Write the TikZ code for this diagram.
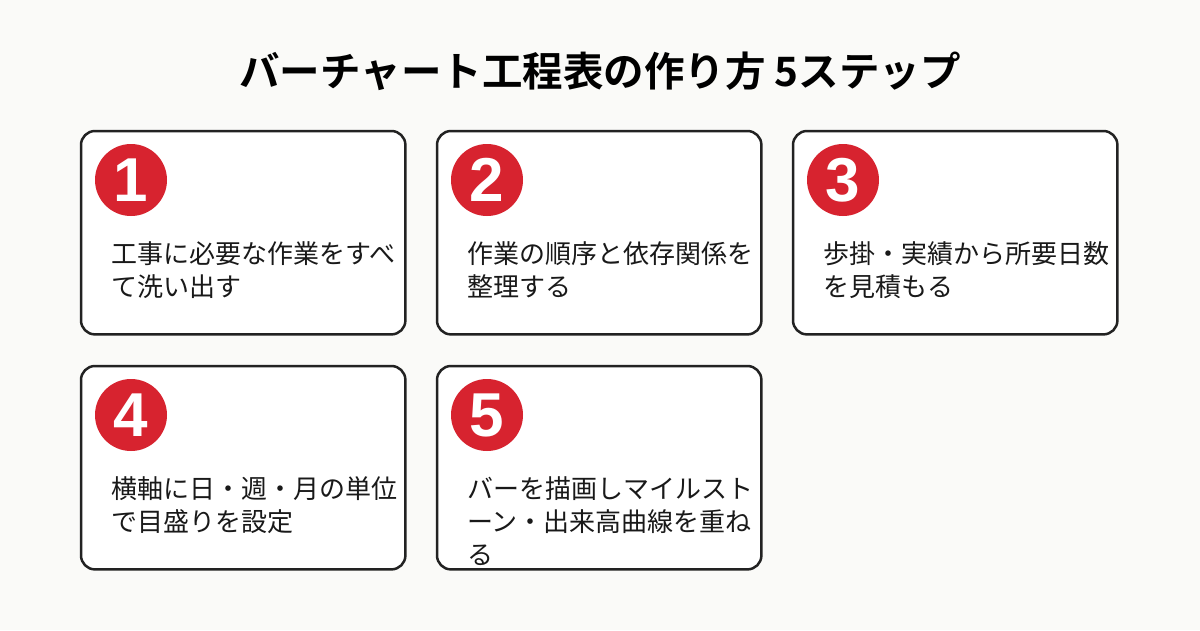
\documentclass[tikz,border=0pt]{standalone}
\usepackage{fontspec}
\setmainfont{Noto Sans CJK JP}[BoldFont={Noto Sans CJK JP Bold}]
\newfontfamily\numfont{Liberation Sans}
\definecolor{pagebg}{HTML}{FAFAF8}
\definecolor{stepred}{HTML}{D7232F}
\definecolor{cardline}{HTML}{222222}

\begin{document}
\begin{tikzpicture}[
    x=1pt, y=-1pt,
    card/.style={fill=white, rounded corners=14pt, minimum width=324pt, minimum height=203pt, anchor=north west, inner sep=0pt},
    cardborder/.style={draw=cardline, line width=2.5pt, rounded corners=14pt},
    badge/.style={circle, fill=stepred, minimum size=72pt, inner sep=0pt, text=white, font=\numfont\fontsize{62}{62}\selectfont\bfseries},
    steptext/.style={anchor=base west, align=left, inner sep=0pt, font=\fontsize{26}{33}\selectfont, text=black!90}
]

% Page background and fixed size
\fill[pagebg] (0,0) rectangle (1200,630);
\useasboundingbox (0,0) rectangle (1200,630);

% Title
\node[font=\fontsize{40.5}{40.5}\selectfont\bfseries] (title) at (600,71) {バーチャート工程表の作り方 5ステップ};

% Step cards: number / left / top / lines / text
% (a multi-line node sits on its last baseline)
\foreach \n/\cx/\cy/\k/\lines in {
    1/81/131/2/{工事に必要な作業をすべ\\て洗い出す},
    2/437/131/2/{作業の順序と依存関係を\\整理する},
    3/793/131/2/{歩掛・実績から所要日数\\を見積もる},
    4/81/366/2/{横軸に日・週・月の単位\\で目盛りを設定},
    5/437/366/3/{バーを描画しマイルスト\\ーン・出来高曲線を重ね\\る}} {
    \node[card] (card\n) at (\cx,\cy) {};
    \node[badge] (badge\n) at (\cx+50,\cy+49) {\n};
    % text is clipped to the card
    \begin{scope}
        \clip[rounded corners=14pt] (card\n.north west) rectangle (card\n.south east);
        \node[steptext] (desc\n) at (\cx+30,\cy+99+33*\k) {\lines};
    \end{scope}
    \draw[cardborder] (card\n.north west) rectangle (card\n.south east);
}

\end{tikzpicture}
\end{document}
